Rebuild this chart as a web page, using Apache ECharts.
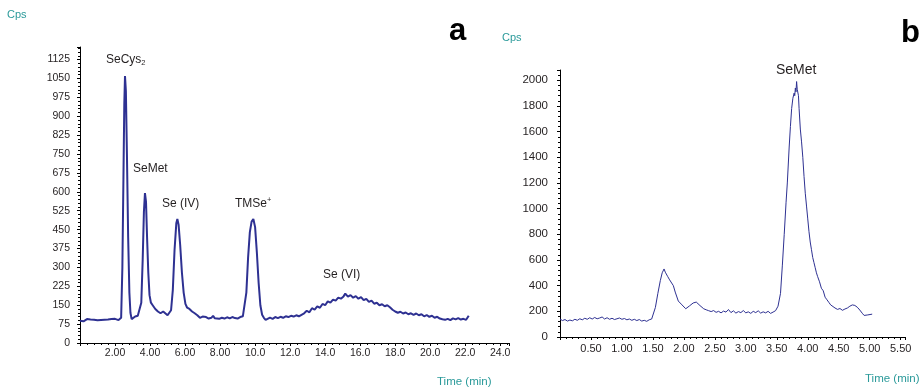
<!DOCTYPE html>
<html><head><meta charset="utf-8">
<script src="https://cdn.jsdelivr.net/npm/echarts@6/dist/echarts.min.js"></script>
<style>html,body{margin:0;padding:0;background:#fff}#c{width:922px;height:388px}</style>
</head><body><div id="c"></div>
<script>
// Panel a: time (min) and Cps
const timeA = [0.0,0.1,0.2,0.3,0.4,0.5,0.6,0.7,0.8,0.9,1.0,1.1,1.2,1.3,1.4,1.5,1.6,1.7,1.8,1.9,2.0,2.1,2.2,2.3,
  2.35,2.42,2.48,2.53,2.57,2.62,2.68,2.75,2.82,2.88,2.95,3.05,3.15,3.3,3.4,3.5,3.58,3.65,3.71,3.77,3.83,3.9,3.97,
  4.05,4.15,4.3,4.45,4.6,4.75,4.85,5.0,5.1,5.2,5.3,5.4,5.5,5.56,5.63,5.72,5.82,5.92,6.02,6.12,6.25,6.4,6.55,6.7,6.85,
  7.0,7.1,7.2,7.35,7.5,7.6,7.7,7.8,7.95,8.1,8.25,8.4,8.55,8.7,8.85,9.0,9.15,9.3,9.4,9.5,9.6,9.7,9.8,9.9,10.0,10.1,
  10.2,10.3,10.4,10.5,10.6,10.7,10.85,11.0,11.15,11.3,11.45,11.6,11.75,11.9,12.05,12.2,12.35,12.5,12.65,12.8,12.95,
  13.1,13.25,13.4,13.55,13.7,13.85,14.0,14.15,14.3,14.45,14.6,14.75,14.9,15.05,15.15,15.3,15.45,15.6,15.75,15.9,
  16.05,16.2,16.35,16.5,16.65,16.8,16.95,17.1,17.25,17.4,17.55,17.7,17.85,18.0,18.15,18.3,18.45,18.6,18.75,18.9,
  19.05,19.2,19.35,19.5,19.65,19.8,19.95,20.1,20.25,20.4,20.55,20.7,20.85,21.0,21.15,21.3,21.45,21.6,21.75,21.9,
  22.05,22.2];
const cpsA = [88,90,86,92,95,90,93,89,92,94,90,93,91,88,92,95,93,97,95,92,96,93,91,90,
  100,300,650,950,1060,1000,750,420,200,120,95,100,105,108,112,160,330,520,595,560,420,280,190,
  160,150,135,125,118,125,118,110,112,130,210,370,475,492,470,390,280,200,155,140,135,125,118,110,100,
  105,99,103,97,100,108,98,101,96,100,97,102,98,103,99,97,103,106,112,200,340,440,482,492,460,360,
  240,150,112,100,92,98,101,96,103,99,104,100,106,103,108,105,110,106,112,118,128,
  122,138,132,145,140,155,150,165,160,172,168,180,176,185,196,184,190,180,186,176,
  182,170,175,163,168,156,160,150,154,146,150,142,132,125,120,124,117,121,114,118,
  112,117,110,114,106,111,104,108,100,104,97,94,92,96,91,98,94,99,93,96,
  92,108];

// Panel b: time (min) and Cps
const timeB = [0.00,0.04,0.08,0.12,0.16,0.20,0.24,0.28,0.32,0.36,0.40,0.44,0.48,0.52,0.56,0.60,0.64,0.68,0.72,0.76,
  0.80,0.84,0.88,0.92,0.96,1.00,1.04,1.08,1.12,1.16,1.20,1.24,1.28,1.32,1.36,1.40,1.44,1.48,1.51,1.54,1.58,1.62,
  1.65,1.68,1.70,1.72,1.74,1.77,1.80,1.83,1.86,1.88,1.91,1.94,1.97,2.00,2.03,2.06,2.09,2.12,2.15,2.18,2.20,2.23,
  2.26,2.29,2.32,2.36,2.40,2.44,2.48,2.52,2.56,2.60,2.64,2.68,2.72,2.76,2.80,2.84,2.88,2.92,2.96,3.00,3.04,3.08,
  3.12,3.16,3.20,3.24,3.28,3.32,3.36,3.40,3.44,3.48,3.52,3.56,3.59,3.62,3.65,3.67,3.70,3.72,3.74,3.76,3.78,3.79,
  3.80,3.81,3.82,3.83,3.85,3.86,3.88,3.90,3.92,3.94,3.96,3.98,4.00,4.02,4.04,4.06,4.08,4.10,4.12,4.14,4.16,4.19,
  4.22,4.25,4.28,4.31,4.34,4.37,4.40,4.44,4.48,4.52,4.56,4.60,4.64,4.68,4.72,4.76,4.80,4.84,4.88,4.91,4.94,4.97,
  5.00,5.04];
const cpsB = [140,128,136,124,132,126,138,130,142,134,146,138,150,140,152,142,148,156,140,150,
  138,146,136,142,148,138,144,134,140,130,138,128,136,124,130,122,134,140,150,230,340,440,
  500,530,505,520,470,445,430,400,350,360,280,265,250,235,220,228,242,250,265,280,272,262,
  245,230,220,212,205,198,206,192,200,188,202,194,214,190,204,186,198,190,206,188,196,184,
  200,190,204,186,196,188,200,184,194,205,240,340,560,800,1050,1200,1480,1640,1780,1860,1900,1880,
  1940,1910,1990,1930,1880,1780,1620,1520,1400,1250,1120,1020,920,820,740,680,620,580,540,500,470,430,
  380,360,310,290,270,250,235,226,215,222,208,218,226,240,250,246,232,210,185,168,180,172,
  184,178];

const yTicksA = {min: 0, max: 1175, interval: 75};
const xTicksA = {min: 0, max: 24.5, interval: 2};
const yTicksB = {min: 0, max: 2080, interval: 200};
const xTicksB = {min: 0, max: 5.57, interval: 0.5};

const zip = (t, v) => t.map((x, i) => [x, v[i]]);
const FONT = '"Liberation Sans", Arial, sans-serif';
const INK = '#231f20';
const TEAL = '#2b9a9a';
const LINE = '#2e3192';

function axisCommon(fs) {
  return {
    axisLine: {show: true, onZero: false, lineStyle: {color: '#000', width: 1}},
    axisTick: {show: true, length: 3, lineStyle: {color: '#000'}},
    minorTick: {show: true, splitNumber: 5, length: 2, lineStyle: {color: '#000'}},
    splitLine: {show: false},
    axisLabel: {color: INK, fontFamily: FONT, fontSize: fs, showMinLabel: false, showMaxLabel: false}
  };
}

const chart = echarts.init(document.getElementById('c'), null, {renderer: 'canvas'});
const xa = axisCommon(10.5), ya = axisCommon(10.5), xb = axisCommon(11), yb = axisCommon(11.5);
xa.axisLabel.formatter = v => v < 10 ? v.toFixed(2) : v.toFixed(1);
xa.axisLabel.margin = 5;
ya.axisLabel.showMinLabel = true; ya.axisLabel.margin = 10;
ya.axisLabel.formatter = v => String(v);
xb.axisLabel.formatter = v => v.toFixed(2);
xb.axisLabel.margin = 6;
yb.axisLabel.showMinLabel = true; yb.axisLabel.margin = 12;
yb.axisLabel.formatter = v => String(v);

const txt = (left, y, text, size, color, extra) => ({
  type: 'text', left: left, top: y - size / 2,
  style: Object.assign({text: text, fontSize: size, fontFamily: FONT, fill: color}, extra || {})
});

chart.setOption({
  animation: false,
  backgroundColor: '#fff',
  grid: [
    {left: 80, top: 47, width: 429, height: 296},
    {left: 560, top: 70, width: 345, height: 267}
  ],
  xAxis: [
    Object.assign({type: 'value', gridIndex: 0}, xTicksA, xa),
    Object.assign({type: 'value', gridIndex: 1}, xTicksB, xb)
  ],
  yAxis: [
    Object.assign({type: 'value', gridIndex: 0}, yTicksA, ya),
    Object.assign({type: 'value', gridIndex: 1}, yTicksB, yb)
  ],
  series: [
    {type: 'line', xAxisIndex: 0, yAxisIndex: 0, data: zip(timeA, cpsA), showSymbol: false,
     lineStyle: {color: LINE, width: 2}, itemStyle: {color: LINE}},
    {type: 'line', xAxisIndex: 1, yAxisIndex: 1, data: zip(timeB, cpsB), showSymbol: false,
     lineStyle: {color: LINE, width: 1}, itemStyle: {color: LINE}}
  ],
  graphic: [
    txt(7, 15, 'Cps', 11, TEAL),
    txt(502, 38, 'Cps', 11, TEAL),
    txt(449, 31, 'a', 31, '#000', {fontWeight: 'bold'}),
    txt(901, 33, 'b', 31, '#000', {fontWeight: 'bold'}),
    txt(437, 382, 'Time (min)', 11.5, TEAL),
    txt(865, 379, 'Time (min)', 11.5, TEAL),
    txt(106, 60, 'SeCys{s|2}', 12, INK, {rich: {s: {fontSize: 7.5, fontFamily: FONT, fill: INK, padding: [6, 0, 0, 0]}}}),
    txt(133, 169, 'SeMet', 12, INK),
    txt(162, 204, 'Se (IV)', 12, INK),
    txt(235, 202, 'TMSe{p|+}', 12, INK, {rich: {p: {fontSize: 7.5, fontFamily: FONT, fill: INK, padding: [0, 0, 7, 0]}}}),
    txt(323, 275, 'Se (VI)', 12, INK),
    txt(776, 70, 'SeMet', 14, INK)
  ]
});
</script></body></html>
